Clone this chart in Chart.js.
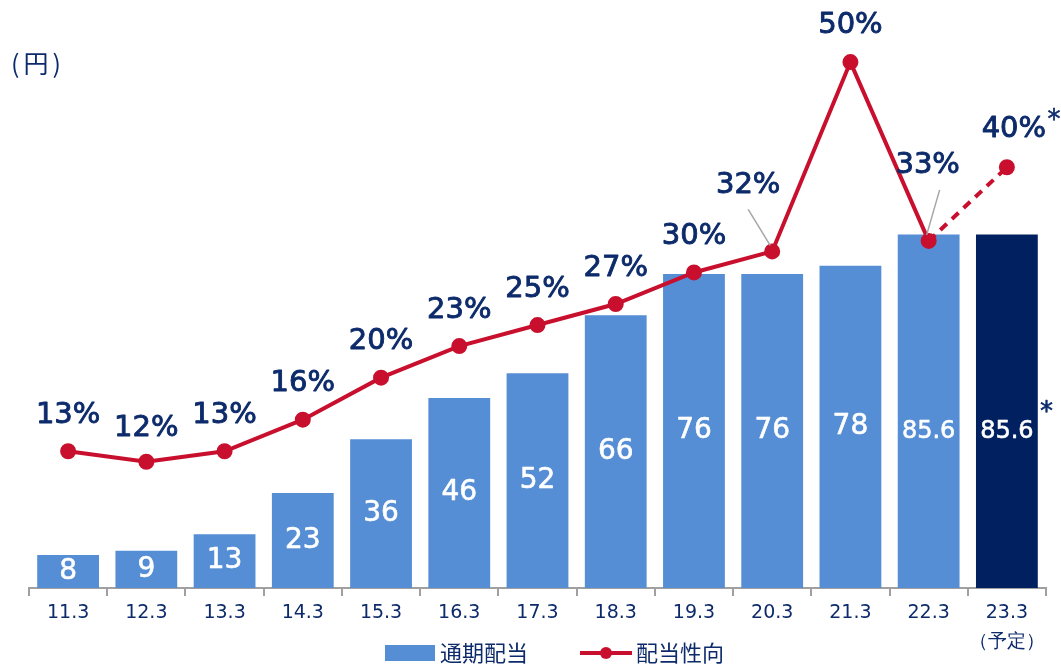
<!DOCTYPE html>
<html>
<head>
<meta charset="utf-8">
<script src="https://cdn.jsdelivr.net/npm/chart.js@4/dist/chart.umd.min.js"></script>
<style>
  html, body { margin: 0; padding: 0; background: #fff; }
  #wrap { width: 1061px; height: 665px; position: relative; }
  #yen { position: absolute; left: 11px; top: 44px; font: 25px "Noto Sans CJK JP", sans-serif; letter-spacing: 4px; color: #0d2b6b; }
</style>
</head>
<body>
<div id="wrap">
  <canvas id="c" width="1061" height="665"></canvas>
  <div id="yen">(円)</div>
</div>
<script>
(function(){
  // fiscal years (March year-end)
  var years    = ['11.3','12.3','13.3','14.3','15.3','16.3','17.3','18.3','19.3','20.3','21.3','22.3',['23.3','（予定）']];
  var dividend = [8, 9, 13, 23, 36, 46, 52, 66, 76, 76, 78, 85.6, 85.6];
  var payout   = [13, 12, 13, 16, 20, 23, 25, 27, 30, 32, 50, 33, 40];
  var divText  = ['8','9','13','23','36','46','52','66','76','76','78','85.6','85.6*'];
  var payText  = ['13%','12%','13%','16%','20%','23%','25%','27%','30%','32%','50%','33%','40%*'];
  var legendNames = ['通期配当', '配当性向'];

  var NAVY = '#0d2b6b', BLUE = '#558ed5', DARK = '#00205f', RED = '#c8102e';
  var FONT = '"DejaVu Sans", Verdana, sans-serif';
  var JP = '"Noto Sans CJK JP", sans-serif';

  // label placement tweaks for the payout line [dx, dy, leader]
  var payPos = payout.map(function(){ return [0, -36, false]; });
  payPos[1]  = [0, -33, false];
  payPos[9]  = [-24, -66, true];
  payPos[10] = [0, -37, false];
  payPos[11] = [-1, -75, true];
  payPos[12] = [7, -38, false];

  // semi-bold look: fill + thin stroke of the same colour
  function heavyText(ctx, txt, x, y, color, w) {
    ctx.fillStyle = color; ctx.strokeStyle = color; ctx.lineWidth = w;
    ctx.fillText(txt, x, y);
    ctx.strokeText(txt, x, y);
  }

  var labelPlugin = {
    id: 'valueLabels',
    afterDatasetsDraw: function(chart) {
      var ctx = chart.ctx;
      ctx.save();
      ctx.textAlign = 'center';
      ctx.textBaseline = 'middle';
      ctx.lineJoin = 'round';

      // bar values
      var bars = chart.getDatasetMeta(1).data;
      bars.forEach(function(b, i) {
        var y = (b.y + b.base) / 2;
        if (dividend[i] > 80) y = b.y + 197;
        var txt = divText[i], star = txt.slice(-1) === '*';
        if (star) txt = txt.slice(0, -1);
        ctx.font = (dividend[i] > 80 ? '24px ' : '28px ') + FONT;
        heavyText(ctx, txt, b.x, y, '#fff', 0.6);
        if (star) {
          var w = ctx.measureText(txt).width;
          ctx.font = '26px ' + FONT;
          heavyText(ctx, '*', b.x + w / 2 + 13, y - 18, NAVY, 0.6);
        }
      });

      // payout labels
      var pts = chart.getDatasetMeta(0).data;
      pts.forEach(function(p, i) {
        var pos = payPos[i];
        var x = p.x + pos[0], y = p.y + pos[1];
        if (pos[2]) {
          ctx.strokeStyle = '#a6a6a6'; ctx.lineWidth = 1.5;
          ctx.beginPath();
          ctx.moveTo(x + (i === 9 ? 0 : 12), y + 24);
          ctx.lineTo(p.x - 2, p.y - 6);
          ctx.stroke();
        }
        var txt = payText[i], star = txt.slice(-1) === '*';
        if (star) txt = txt.slice(0, -1);
        ctx.font = '29px ' + FONT;
        heavyText(ctx, txt, x, y, NAVY, 0.9);
        if (star) {
          var w = ctx.measureText(txt).width;
          ctx.font = '26px ' + FONT;
          heavyText(ctx, '*', x + w / 2 + 8, y - 8, NAVY, 0.6);
        }
      });
      ctx.restore();
    },
    afterDraw: function(chart) {
      // legend under the axis, sharing the row with the second tick line
      var ctx = chart.ctx, y = 653;
      ctx.save();
      ctx.font = '22px ' + JP;
      ctx.textBaseline = 'middle';
      ctx.textAlign = 'left';
      var x = 385;
      ctx.fillStyle = BLUE;
      ctx.fillRect(x, y - 8, 50, 16);
      ctx.fillStyle = NAVY;
      ctx.fillText(legendNames[0], x + 55, y);
      x = 580;
      ctx.strokeStyle = RED; ctx.lineWidth = 4;
      ctx.beginPath(); ctx.moveTo(x, y); ctx.lineTo(x + 52, y); ctx.stroke();
      ctx.fillStyle = RED;
      ctx.beginPath(); ctx.arc(x + 26, y, 6, 0, Math.PI * 2); ctx.fill();
      ctx.fillStyle = NAVY;
      ctx.fillText(legendNames[1], x + 56, y);
      ctx.restore();
    }
  };

  new Chart(document.getElementById('c'), {
    data: {
      labels: years,
      datasets: [
        {
          type: 'line',
          label: legendNames[1],
          data: payout,
          yAxisID: 'y2',
          borderColor: RED,
          backgroundColor: RED,
          borderWidth: 4,
          pointRadius: 6,
          pointHoverRadius: 6,
          tension: 0,
          segment: { borderDash: function(s){ return s.p1DataIndex === 12 ? [9, 7] : undefined; } },
          order: 0
        },
        {
          type: 'bar',
          label: legendNames[0],
          data: dividend,
          yAxisID: 'y',
          backgroundColor: dividend.map(function(v, i){ return i === dividend.length - 1 ? DARK : BLUE; }),
          barPercentage: 0.79,
          categoryPercentage: 1,
          order: 1
        }
      ]
    },
    options: {
      responsive: false,
      animation: false,
      layout: { padding: { left: 29, right: 15, top: 20, bottom: 6 } },
      plugins: {
        tooltip: { enabled: false },
        legend: { display: false }
      },
      scales: {
        x: {
          grid: { offset: true, drawOnChartArea: false, drawTicks: true, tickLength: 8, color: '#a0a0a0', lineWidth: 2 },
          border: { color: '#a0a0a0', width: 2 },
          ticks: { color: NAVY, font: { family: FONT, size: 19, lineHeight: 1.5 }, padding: 3, maxRotation: 0, autoSkip: false }
        },
        y:  { display: false, min: 0, max: 137.5 },
        y2: { display: false, min: 0, max: 54, position: 'right' }
      }
    },
    plugins: [labelPlugin]
  });
})();
</script>
</body>
</html>
